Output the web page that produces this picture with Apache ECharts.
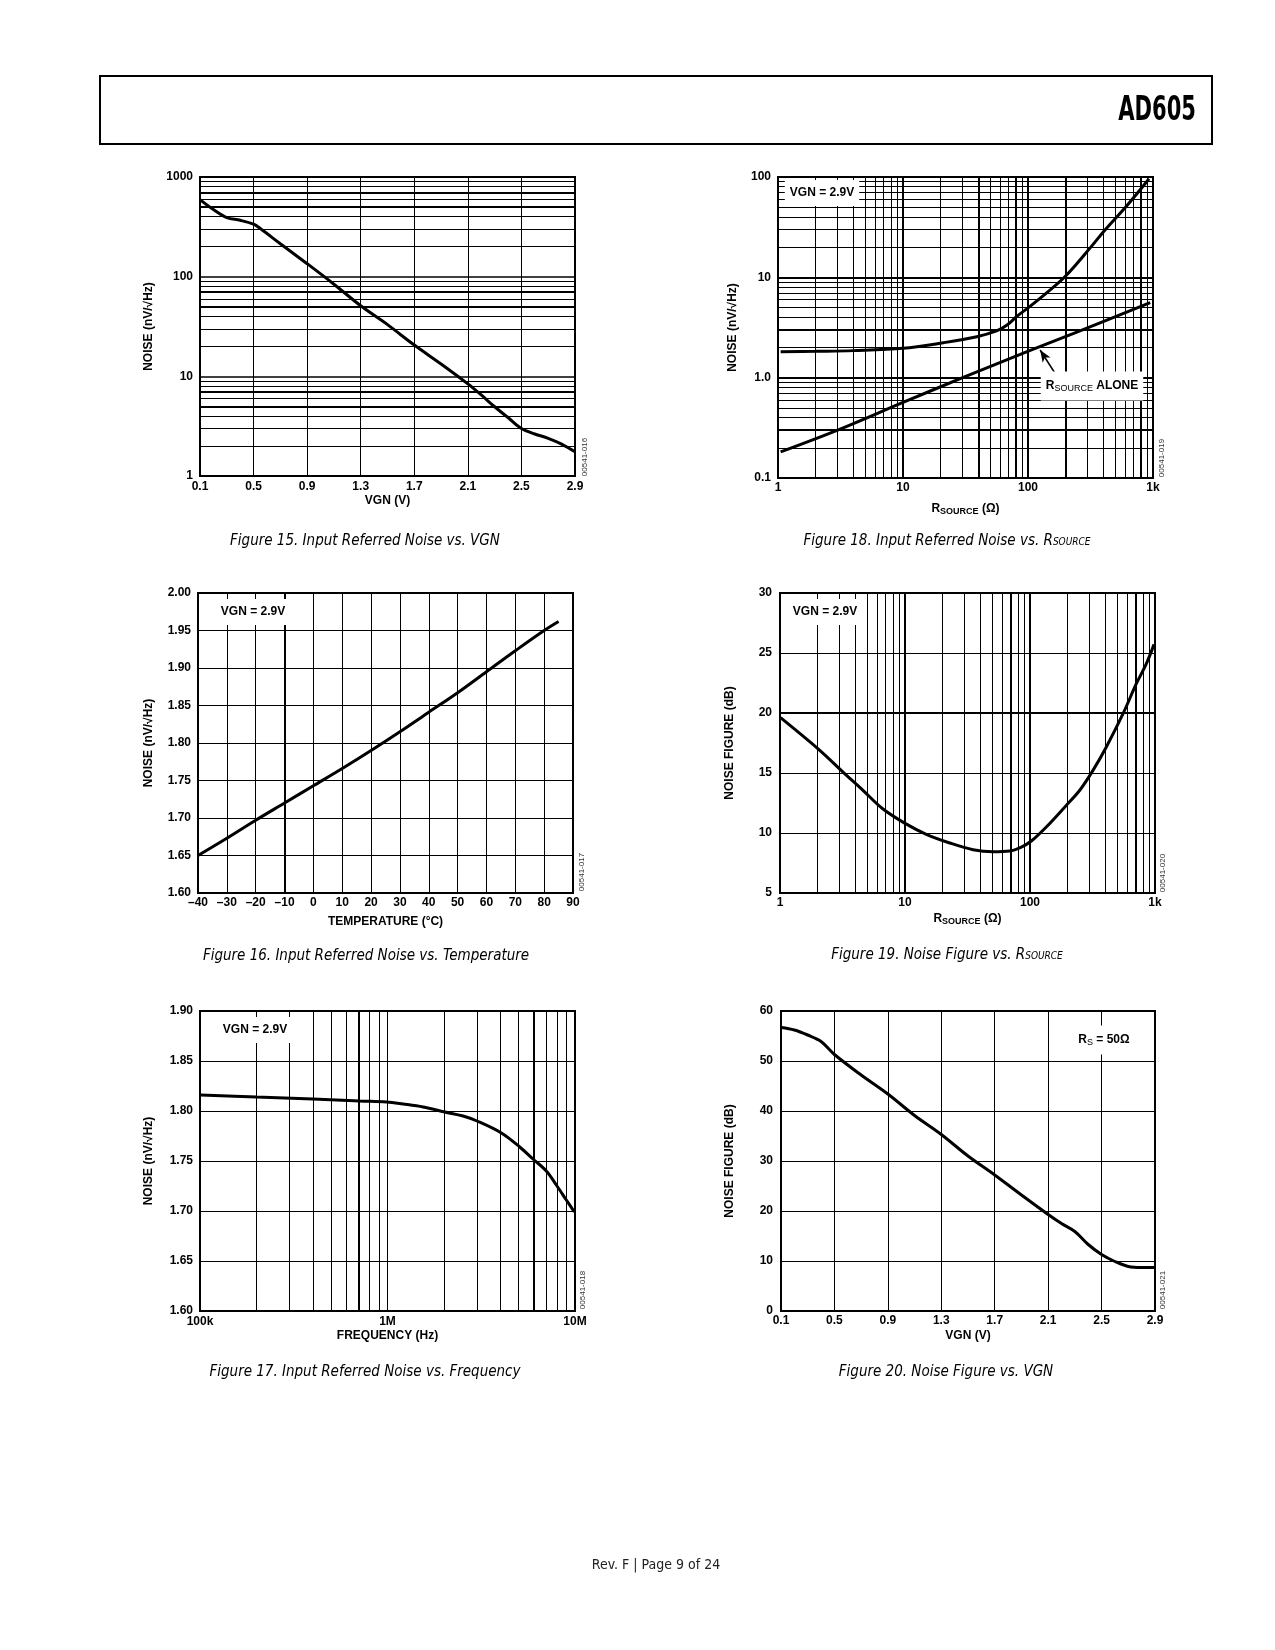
<!DOCTYPE html>
<html><head><meta charset="utf-8">
<script src="https://cdn.jsdelivr.net/npm/echarts@6/dist/echarts.min.js"></script>
<style>html,body{margin:0;padding:0;background:#fff}#c{width:1275px;height:1650px}</style>
</head><body><div id="c"></div>
<script>
// ---------- DATA ----------
// Figure 15: Input referred noise vs VGN
const fig15Vgn   = [0.1,0.2,0.3,0.4,0.5,0.55,0.7,0.9,1.1,1.3,1.5,1.7,1.9,2.1,2.2,2.3,2.4,2.5,2.6,2.7,2.8,2.9];
const fig15Noise = [593,471,391,368,336,304,214,135,84,51,33,20.6,13.3,8.4,6.5,4.95,3.86,3.0,2.64,2.39,2.09,1.75];
const fig15XTicks = [0.1,0.5,0.9,1.3,1.7,2.1,2.5,2.9];
const fig15YLabels = ['1','10','100','1000'];

// Figure 18: Input referred noise vs R_SOURCE
const fig18RsTotal = [1.05,2,4,10,21,39,56,68,81,103,141,200,318,413,620,930];
const fig18Total   = [1.81,1.83,1.86,1.96,2.23,2.56,2.92,3.35,4.06,5.1,7.0,10.3,20,29.7,52,96];
const fig18RsAlone = [1.05,3,10,30,103,246,950];
const fig18Alone   = [0.182,0.30,0.566,1.0,1.86,2.85,5.6];
const fig18XLabels = ['1','10','100','1k'];
const fig18YLabels = ['0.1','1.0','10','100'];

// Figure 16: Input referred noise vs temperature
const fig16Temp  = [-40,-30,-20,-10,0,10,20,30,40,50,60,70,80,85];
const fig16Noise = [1.650,1.673,1.697,1.720,1.743,1.766,1.790,1.815,1.841,1.867,1.895,1.923,1.950,1.962];

// Figure 19: Noise figure vs R_SOURCE
const fig19Rs = [1.01,2.08,3.19,4.61,6.67,10.1,14.8,22.8,35,50.6,68.8,85.3,102.5,135,195,250,319,408,555,709,853,982];
const fig19Nf = [19.61,16.89,15.08,13.56,12.0,10.78,9.89,9.17,8.61,8.44,8.5,8.83,9.33,10.5,12.3,13.56,15.22,17.17,19.94,22.44,24.11,25.72];

// Figure 17: Input referred noise vs frequency
const fig17Freq  = [1.008e5,2e5,4e5,7.12e5,9.88e5,1.21e6,1.55e6,2.02e6,2.53e6,3.0e6,4.05e6,5.07e6,5.97e6,7.03e6,7.95e6,8.99e6,9.92e6];
const fig17Noise = [1.816,1.814,1.812,1.810,1.809,1.807,1.804,1.799,1.795,1.790,1.778,1.764,1.752,1.740,1.726,1.711,1.699];
const fig17XLabels = ['100k','1M','10M'];

// Figure 20: Noise figure vs VGN
const fig20Vgn = [0.1,0.2,0.3,0.4,0.5,0.7,0.9,1.1,1.3,1.5,1.7,1.9,2.1,2.2,2.3,2.4,2.5,2.6,2.7,2.8,2.9];
const fig20Nf  = [56.7,56.2,55.2,53.9,51.3,47.2,43.4,39.1,35.3,31.0,27.2,23.2,19.3,17.5,15.9,13.3,11.3,9.9,8.9,8.7,8.7];

// ---------- STYLE ----------
const FONT = "'Liberation Sans', Arial, Helvetica, sans-serif";
const NARROW = "'Liberation Sans Narrow', 'DejaVu Sans Condensed', 'Liberation Sans', sans-serif";
const lab = {color:'#000', fontSize:12, fontWeight:'bold', fontFamily:FONT};
const nameStyle = {color:'#000', fontSize:12, fontWeight:'bold', fontFamily:FONT,
  rich:{r:{fontSize:12,fontWeight:'bold',fontFamily:FONT,color:'#000'}, s:{fontSize:9,fontFamily:FONT,color:'#000',padding:[6,0,0,0]}}};
const split = w => ({show:true, lineStyle:{color:'#000', width:w||1, type:'solid'}});

function logFmt(labels, minVal){ return v => labels[Math.round(Math.log10(v) - Math.log10(minVal))] || ''; }
function logMinor(decades){ const out=[]; decades.forEach(d=>{ for(let k=2;k<=9;k++) out.push(+(d*k).toPrecision(6)); }); return out; }
function lines(key, vals, thick){
  return vals.map(v => ({[key]: v, lineStyle:{color:'#000', width: thick.some(t=>Math.abs(t-v)<1e-9*Math.max(1,t)) ? 2 : 1, type:'solid'}}));
}

const grids = [
  {left:200, top:177, width:375, height:299},
  {left:778, top:177, width:375, height:301},
  {left:198, top:593, width:375, height:300},
  {left:780, top:593, width:375, height:300},
  {left:200, top:1011, width:375, height:300},
  {left:781, top:1011, width:374, height:300}
].map(g => Object.assign({show:true, borderColor:'#000', borderWidth:2, backgroundColor:'transparent', containLabel:false}, g));

const xAxis = [
  {gridIndex:0, type:'value', min:0.1, max:2.9, axisLine:{show:false}, axisTick:{show:false, customValues:fig15XTicks},
   axisLabel:Object.assign({customValues:fig15XTicks, margin:5}, lab), splitLine:split(1),
   name:'VGN (V)', nameLocation:'middle', nameGap:19, nameTextStyle:nameStyle},
  {gridIndex:1, type:'log', logBase:10, min:1, max:1000, axisLine:{show:false}, axisTick:{show:false},
   axisLabel:Object.assign({margin:4, formatter:logFmt(fig18XLabels,1)}, lab), splitLine:split(2),
   name:'{r|R}{s|SOURCE}{r| (Ω)}', nameLocation:'middle', nameGap:23, nameTextStyle:nameStyle},
  {gridIndex:2, type:'value', min:-40, max:90, interval:10, axisLine:{show:false}, axisTick:{show:false},
   axisLabel:Object.assign({margin:4, formatter:v => v<0 ? '\u2013'+Math.abs(v) : String(v)}, lab), splitLine:split(1),
   name:'TEMPERATURE (°C)', nameLocation:'middle', nameGap:23, nameTextStyle:nameStyle},
  {gridIndex:3, type:'log', logBase:10, min:1, max:1000, axisLine:{show:false}, axisTick:{show:false},
   axisLabel:Object.assign({margin:4, formatter:logFmt(fig18XLabels,1)}, lab), splitLine:split(2),
   name:'{r|R}{s|SOURCE}{r| (Ω)}', nameLocation:'middle', nameGap:18, nameTextStyle:nameStyle},
  {gridIndex:4, type:'log', logBase:10, min:1e5, max:1e7, axisLine:{show:false}, axisTick:{show:false},
   axisLabel:Object.assign({margin:5, formatter:logFmt(fig17XLabels,1e5)}, lab), splitLine:split(1),
   name:'FREQUENCY (Hz)', nameLocation:'middle', nameGap:19, nameTextStyle:nameStyle},
  {gridIndex:5, type:'value', min:0.1, max:2.9, axisLine:{show:false}, axisTick:{show:false, customValues:fig15XTicks},
   axisLabel:Object.assign({customValues:fig15XTicks, margin:4}, lab), splitLine:split(1),
   name:'VGN (V)', nameLocation:'middle', nameGap:19, nameTextStyle:nameStyle}
];

const yAxis = [
  {gridIndex:0, type:'log', logBase:10, min:1, max:1000, axisLine:{show:false}, axisTick:{show:false},
   axisLabel:Object.assign({margin:7, formatter:logFmt(fig15YLabels,1)}, lab), splitLine:split(1.5),
   name:'NOISE (nV/√Hz)', nameLocation:'middle', nameGap:45, nameTextStyle:nameStyle},
  {gridIndex:1, type:'log', logBase:10, min:0.1, max:100, axisLine:{show:false}, axisTick:{show:false},
   axisLabel:Object.assign({margin:7, formatter:logFmt(fig18YLabels,0.1)}, lab), splitLine:split(2),
   name:'NOISE (nV/√Hz)', nameLocation:'middle', nameGap:39, nameTextStyle:nameStyle},
  {gridIndex:2, type:'value', min:1.6, max:2.0, interval:0.05, axisLine:{show:false}, axisTick:{show:false},
   axisLabel:Object.assign({margin:7, formatter:v => v.toFixed(2)}, lab), splitLine:split(1),
   name:'NOISE (nV/√Hz)', nameLocation:'middle', nameGap:43, nameTextStyle:nameStyle},
  {gridIndex:3, type:'value', min:5, max:30, interval:5, axisLine:{show:false}, axisTick:{show:false},
   axisLabel:Object.assign({margin:8}, lab), splitLine:split(1),
   name:'NOISE FIGURE (dB)', nameLocation:'middle', nameGap:44, nameTextStyle:nameStyle},
  {gridIndex:4, type:'value', min:1.6, max:1.9, interval:0.05, axisLine:{show:false}, axisTick:{show:false},
   axisLabel:Object.assign({margin:7, formatter:v => v.toFixed(2)}, lab), splitLine:split(1),
   name:'NOISE (nV/√Hz)', nameLocation:'middle', nameGap:45, nameTextStyle:nameStyle},
  {gridIndex:5, type:'value', min:0, max:60, interval:10, axisLine:{show:false}, axisTick:{show:false},
   axisLabel:Object.assign({margin:8}, lab), splitLine:split(1),
   name:'NOISE FIGURE (dB)', nameLocation:'middle', nameGap:45, nameTextStyle:nameStyle}
];

const series = [];
function curve(i, xs, ys, mlData){
  const s = {type:'line', xAxisIndex:i, yAxisIndex:i, data: xs.map((x,k)=>[x, ys[k]]),
    showSymbol:false, symbol:'none', smooth:0.35, silent:true, z:3,
    lineStyle:{color:'#000', width:3}};
  if (mlData) s.markLine = {silent:true, symbol:['none','none'], label:{show:false}, animation:false,
    emphasis:{disabled:true}, data: mlData};
  series.push(s);
}

curve(0, fig15Vgn, fig15Noise, lines('yAxis', logMinor([1,10,100]), [5,7,50,70,500,700]));
curve(1, fig18RsTotal, fig18Total,
  lines('xAxis', logMinor([1,10,100]), [40,80,200,800]).concat(lines('yAxis', logMinor([0.1,1,10]), [0.3,3])));
curve(1, fig18RsAlone, fig18Alone, [[
  {coord:[165,1.10], symbol:'none', lineStyle:{color:'#000', width:1.5, type:'solid'}},
  {coord:[125,1.886], symbol:'arrow', symbolSize:[7,12]}
]]);
curve(2, fig16Temp, fig16Noise, lines('xAxis', [-10], [-10]));
curve(3, fig19Rs, fig19Nf, lines('xAxis', logMinor([1,10,100]), [70,700]).concat(lines('yAxis',[20],[20])));
curve(4, fig17Freq, fig17Noise, lines('xAxis', logMinor([1e5,1e6]), [7e5,6e6]));
curve(5, fig20Vgn, fig20Nf, null);

// ---------- TEXT / ANNOTATIONS ----------
const ann = (x, y, text, rich) => ({type:'text', x, y, z:100, silent:true,
  style:{text, fontSize:12, fontWeight:'bold', fontFamily:FONT, fill:'#000', align:'center', verticalAlign:'middle',
    backgroundColor:'#fff', padding:[7,5,7,5], rich}});
const code = (x, y, text) => ({type:'text', x, y, z:100, rotation:Math.PI/2, silent:true,
  style:{text, fontSize:8, fontFamily:FONT, fill:'#333', align:'center', verticalAlign:'middle'}});
const cap = (x, y, text) => ({type:'text', x, y, z:100, silent:true,
  style:{text, fontSize:15, fontStyle:'italic', fontFamily:NARROW, fill:'#000', align:'center', verticalAlign:'middle',
    rich:{s:{fontSize:10, fontStyle:'italic', fontFamily:NARROW, fill:'#000', padding:[3,0,0,0]}}}});

const subRich = {b:{fontSize:12,fontWeight:'bold',fontFamily:FONT,fill:'#000'},
                 s:{fontSize:9,fontFamily:FONT,fill:'#000',padding:[6,0,0,0]}};

const graphic = [
  {type:'rect', z:100, shape:{x:100, y:76, width:1112, height:68}, style:{fill:'none', stroke:'#000', lineWidth:2}},
  {type:'text', x:1196, y:111, z:100, scaleX:0.71,
   style:{text:'AD605', fontSize:33, fontWeight:'bold', fontFamily:NARROW, fill:'#000', align:'right', verticalAlign:'middle'}},
  ann(822, 193, 'VGN = 2.9V'),
  ann(1092, 386, '{b|R}{s|SOURCE}{b| ALONE}', subRich),
  ann(253, 612, 'VGN = 2.9V'),
  ann(825, 612, 'VGN = 2.9V'),
  ann(255, 1030, 'VGN = 2.9V'),
  ann(1104, 1040, '{b|R}{s|S}{b| = 50Ω}', subRich),
  code(585, 457, '00541-016'),
  code(1162, 458, '00541-019'),
  code(582, 872, '00541-017'),
  code(1163, 873, '00541-020'),
  code(583, 1290, '00541-018'),
  code(1163, 1290, '00541-021'),
  cap(365, 541, 'Figure 15. Input Referred Noise vs. VGN'),
  cap(947, 541, 'Figure 18. Input Referred Noise vs. R{s|SOURCE}'),
  cap(366, 956, 'Figure 16. Input Referred Noise vs. Temperature'),
  cap(947, 955, 'Figure 19. Noise Figure vs. R{s|SOURCE}'),
  cap(365, 1372, 'Figure 17. Input Referred Noise vs. Frequency'),
  cap(946, 1372, 'Figure 20. Noise Figure vs. VGN'),
  {type:'text', x:656, y:1565, z:100, silent:true,
   style:{text:'Rev. F | Page 9 of 24', fontSize:14, fontFamily:NARROW, fill:'#222', align:'center', verticalAlign:'middle'}}
];

const chart = echarts.init(document.getElementById('c'), null, {renderer:'canvas'});
chart.setOption({animation:false, backgroundColor:'#fff', grid:grids, xAxis, yAxis, series, graphic});
</script></body></html>
